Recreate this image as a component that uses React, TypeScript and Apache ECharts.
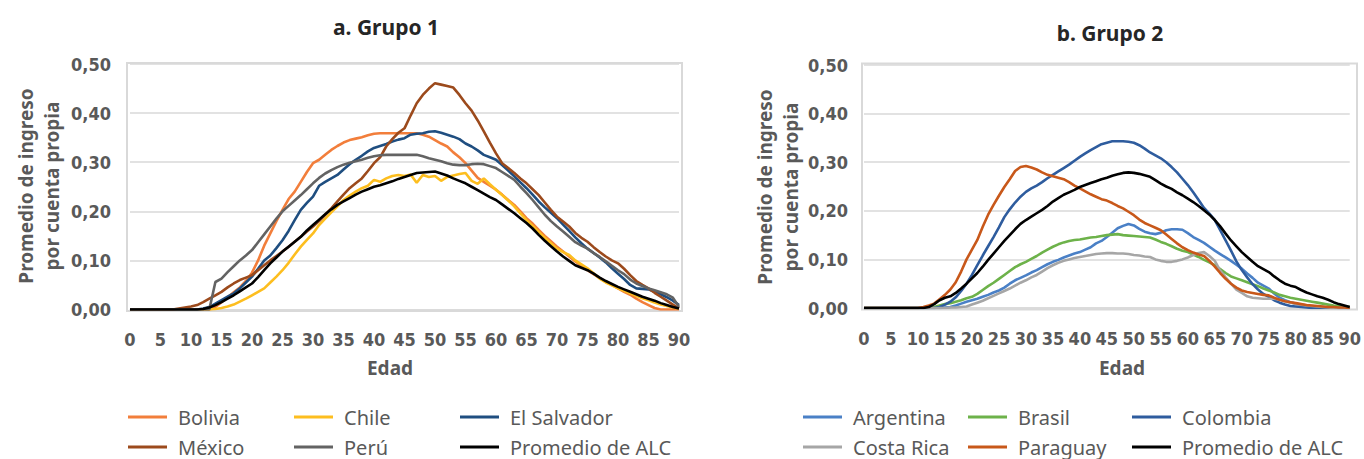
import React, { useEffect, useRef } from "react";
import * as echarts from "echarts";

const AGES: string[] = Array.from({ length: 91 }, (_, i) => String(i));
const Y_TICKS = [0, 0.1, 0.2, 0.3, 0.4, 0.5];

// Grupo 1
const BOLIVIA = [
  0, 0, 0, 0, 0, 0, 0, 0, 0, 0,
  0, 0, 0, 0, 0.005, 0.015, 0.025, 0.035, 0.045, 0.058,
  0.075, 0.1, 0.13, 0.155, 0.18, 0.203, 0.225, 0.24, 0.26, 0.28,
  0.298, 0.305, 0.315, 0.325, 0.333, 0.34, 0.345, 0.348, 0.351, 0.355,
  0.358, 0.359, 0.359, 0.359, 0.359, 0.359, 0.359, 0.359, 0.356, 0.352,
  0.345, 0.338, 0.332, 0.32, 0.31, 0.298, 0.283, 0.268, 0.26, 0.252,
  0.244, 0.234, 0.223, 0.213, 0.2, 0.186, 0.175, 0.162, 0.15, 0.139,
  0.128, 0.118, 0.108, 0.098, 0.089, 0.08, 0.072, 0.064, 0.057, 0.05,
  0.043, 0.036, 0.03, 0.022, 0.015, 0.009, 0.003, 0, 0, 0,
  0,
];
const CHILE = [
  0, 0, 0, 0, 0, 0, 0, 0, 0, 0,
  0, 0, 0, 0, 0.001, 0.003, 0.006, 0.01, 0.016, 0.022,
  0.029, 0.036, 0.043, 0.055, 0.067, 0.08, 0.095, 0.112, 0.128, 0.142,
  0.155, 0.172, 0.185, 0.198, 0.21, 0.223, 0.232, 0.24, 0.247, 0.252,
  0.264, 0.26, 0.267, 0.272, 0.274, 0.272, 0.275, 0.258, 0.274, 0.27,
  0.272, 0.262, 0.27, 0.273, 0.276, 0.278, 0.262, 0.256, 0.267, 0.255,
  0.244, 0.233, 0.222, 0.21, 0.196, 0.182, 0.17, 0.158, 0.146, 0.135,
  0.124, 0.117, 0.111, 0.1, 0.092, 0.084, 0.074, 0.063, 0.055, 0.049,
  0.043, 0.038, 0.033, 0.028, 0.023, 0.019, 0.014, 0.01, 0.007, 0.004,
  0.002,
];
const EL_SALVADOR = [
  0, 0, 0, 0, 0, 0, 0, 0, 0, 0,
  0, 0, 0.002, 0.005, 0.012, 0.019, 0.026, 0.033, 0.043, 0.055,
  0.067, 0.083, 0.1, 0.11, 0.125, 0.141, 0.16, 0.182, 0.203, 0.217,
  0.23, 0.252, 0.26, 0.267, 0.274, 0.285, 0.296, 0.305, 0.313, 0.322,
  0.329, 0.333, 0.337, 0.342, 0.346, 0.349, 0.356, 0.358, 0.359, 0.362,
  0.363, 0.36, 0.356, 0.352, 0.347, 0.338, 0.332, 0.324, 0.315, 0.31,
  0.305, 0.294, 0.283, 0.271, 0.259, 0.247, 0.234, 0.22, 0.208, 0.197,
  0.186, 0.173, 0.16, 0.147, 0.135, 0.124, 0.115, 0.106, 0.096, 0.084,
  0.073, 0.062, 0.05, 0.043, 0.042, 0.041, 0.036, 0.031, 0.025, 0.018,
  0.009,
];
const MEXICO = [
  0, 0, 0, 0, 0, 0, 0, 0, 0.002, 0.004,
  0.006, 0.009, 0.015, 0.022, 0.029, 0.036, 0.045, 0.053, 0.06, 0.065,
  0.07, 0.08, 0.09, 0.1, 0.109, 0.118, 0.128, 0.138, 0.148, 0.159,
  0.169, 0.18, 0.193, 0.206, 0.22, 0.234, 0.247, 0.257, 0.267, 0.282,
  0.298, 0.31, 0.332, 0.347, 0.36, 0.369, 0.395, 0.42, 0.437, 0.45,
  0.461, 0.458, 0.455, 0.452, 0.437, 0.42, 0.405, 0.385, 0.363, 0.34,
  0.318, 0.298, 0.288, 0.278, 0.267, 0.257, 0.245, 0.233, 0.218, 0.203,
  0.189, 0.179, 0.169, 0.156, 0.146, 0.138, 0.127, 0.117, 0.108, 0.1,
  0.094, 0.083, 0.07, 0.058, 0.05, 0.043, 0.034, 0.026, 0.018, 0.01,
  0.002,
];
const PERU = [
  0, 0, 0, 0, 0, 0, 0, 0, 0, 0,
  0, 0, 0, 0, 0.056, 0.063, 0.076, 0.088, 0.1, 0.11,
  0.121, 0.137, 0.153, 0.169, 0.185, 0.2, 0.211, 0.222, 0.233, 0.245,
  0.257, 0.268, 0.277, 0.284, 0.29, 0.295, 0.299, 0.302, 0.305, 0.309,
  0.312, 0.314, 0.315, 0.315, 0.315, 0.315, 0.315, 0.315, 0.312, 0.308,
  0.305, 0.302, 0.298, 0.295, 0.294, 0.294, 0.296, 0.297, 0.296, 0.292,
  0.288, 0.28, 0.272, 0.264, 0.25, 0.237, 0.223, 0.208, 0.193, 0.18,
  0.169, 0.159, 0.148, 0.137, 0.13, 0.124, 0.115, 0.107, 0.098, 0.089,
  0.08, 0.072, 0.061, 0.053, 0.048, 0.043, 0.039, 0.035, 0.031, 0.024,
  0.005,
];
const ALC_1 = [
  0, 0, 0, 0, 0, 0, 0, 0, 0, 0,
  0, 0, 0.001, 0.004, 0.009, 0.015, 0.022, 0.029, 0.037, 0.045,
  0.053, 0.066, 0.08, 0.094, 0.106, 0.118, 0.128, 0.138, 0.148, 0.161,
  0.172, 0.183, 0.194, 0.204, 0.213, 0.22, 0.227, 0.234, 0.24, 0.245,
  0.25, 0.253, 0.257, 0.261, 0.266, 0.27, 0.274, 0.278, 0.279, 0.28,
  0.281, 0.277, 0.273, 0.267, 0.262, 0.257, 0.25, 0.243, 0.236, 0.229,
  0.223, 0.214, 0.205, 0.196, 0.186, 0.176, 0.165, 0.152, 0.14, 0.129,
  0.118, 0.108, 0.099, 0.09, 0.085, 0.08, 0.073, 0.065, 0.058, 0.052,
  0.046, 0.041, 0.036, 0.031, 0.026, 0.022, 0.018, 0.013, 0.009, 0.005,
  0.002,
];

// Grupo 2
const ARGENTINA = [
  0, 0, 0, 0, 0, 0, 0, 0, 0, 0,
  0, 0, 0, 0, 0, 0.001, 0.002, 0.005, 0.009, 0.013,
  0.016, 0.019, 0.023, 0.027, 0.032, 0.036, 0.042, 0.05, 0.057, 0.062,
  0.067, 0.073, 0.078, 0.084, 0.09, 0.095, 0.099, 0.104, 0.108, 0.112,
  0.115, 0.12, 0.125, 0.133, 0.138, 0.146, 0.155, 0.164, 0.169, 0.173,
  0.17, 0.163, 0.157, 0.154, 0.152, 0.155, 0.16, 0.162, 0.162, 0.161,
  0.154, 0.146, 0.14, 0.134, 0.126, 0.118, 0.111, 0.104, 0.097, 0.089,
  0.081, 0.071, 0.062, 0.052, 0.046, 0.04, 0.03, 0.021, 0.016, 0.012,
  0.009, 0.006, 0.004, 0.003, 0.002, 0.002, 0.001, 0.001, 0, 0,
  0,
];
const BRASIL = [
  0, 0, 0, 0, 0, 0, 0, 0, 0, 0,
  0, 0, 0, 0.002, 0.005, 0.008, 0.01, 0.013, 0.016, 0.02,
  0.023, 0.029, 0.037, 0.045, 0.052, 0.06, 0.068, 0.076, 0.084, 0.09,
  0.095, 0.101, 0.107, 0.114, 0.12, 0.126, 0.131, 0.135, 0.138, 0.14,
  0.141, 0.143, 0.145, 0.146, 0.148, 0.15, 0.151, 0.152, 0.15, 0.149,
  0.148, 0.147, 0.146, 0.145, 0.141, 0.136, 0.132, 0.127, 0.122, 0.118,
  0.115, 0.11, 0.105, 0.099, 0.094, 0.088, 0.08, 0.072, 0.065, 0.061,
  0.057, 0.053, 0.049, 0.045, 0.04, 0.036, 0.032, 0.027, 0.024, 0.021,
  0.019, 0.017, 0.015, 0.013, 0.011, 0.009, 0.007, 0.005, 0.004, 0.003,
  0.002,
];
const COLOMBIA = [
  0, 0, 0, 0, 0, 0, 0, 0, 0, 0,
  0, 0, 0, 0, 0.002, 0.007, 0.013, 0.022, 0.035, 0.05,
  0.068, 0.088, 0.108, 0.127, 0.146, 0.166, 0.187, 0.203, 0.217, 0.229,
  0.239, 0.246, 0.252, 0.259, 0.267, 0.274, 0.281, 0.288, 0.295, 0.303,
  0.311, 0.318, 0.325, 0.331, 0.337, 0.34, 0.343, 0.343, 0.343, 0.342,
  0.34, 0.335, 0.328, 0.32, 0.314, 0.308, 0.3, 0.29, 0.279, 0.266,
  0.253, 0.238, 0.222, 0.206, 0.194, 0.181, 0.16, 0.139, 0.118, 0.096,
  0.078, 0.063, 0.049, 0.038, 0.029, 0.023, 0.016, 0.011, 0.007, 0.004,
  0.003, 0.002, 0.001, 0, 0, 0, 0, 0, 0, 0,
  0,
];
const COSTA_RICA = [
  0, 0, 0, 0, 0, 0, 0, 0, 0, 0,
  0, 0, 0, 0, 0, 0, 0.001, 0.001, 0.002, 0.003,
  0.007, 0.011, 0.015, 0.02, 0.025, 0.03, 0.035, 0.04, 0.046, 0.052,
  0.057, 0.063, 0.068, 0.075, 0.082, 0.088, 0.093, 0.097, 0.1, 0.103,
  0.105, 0.107, 0.109, 0.111, 0.112, 0.113, 0.113, 0.112, 0.112, 0.111,
  0.109, 0.108, 0.106, 0.105, 0.1, 0.097, 0.095, 0.095, 0.097, 0.1,
  0.104, 0.109, 0.113, 0.115, 0.107, 0.097, 0.077, 0.063, 0.05, 0.038,
  0.031, 0.024, 0.021, 0.02, 0.019, 0.019, 0.019, 0.017, 0.014, 0.011,
  0.009, 0.007, 0.005, 0.004, 0.003, 0.002, 0.001, 0, 0, 0,
  0,
];
const PARAGUAY = [
  0, 0, 0, 0, 0, 0, 0, 0, 0, 0,
  0, 0.002, 0.005, 0.009, 0.018, 0.027, 0.038, 0.053, 0.075, 0.1,
  0.12, 0.14, 0.167, 0.192, 0.212, 0.231, 0.249, 0.265, 0.282, 0.29,
  0.292, 0.289, 0.285, 0.279, 0.274, 0.271, 0.268, 0.265, 0.259, 0.252,
  0.246, 0.24, 0.234, 0.229, 0.224, 0.221, 0.216, 0.21, 0.205, 0.198,
  0.191, 0.182, 0.175, 0.17, 0.165, 0.16, 0.151, 0.142, 0.133, 0.125,
  0.119, 0.114, 0.11, 0.107, 0.097, 0.085, 0.072, 0.06, 0.05, 0.042,
  0.036, 0.033, 0.031, 0.029, 0.027, 0.026, 0.021, 0.017, 0.014, 0.012,
  0.01, 0.008, 0.006, 0.005, 0.004, 0.003, 0.002, 0.002, 0.001, 0.001,
  0,
];
const ALC_2 = [
  0, 0, 0, 0, 0, 0, 0, 0, 0, 0,
  0, 0, 0.002, 0.008, 0.016, 0.021, 0.024, 0.031, 0.04, 0.05,
  0.061, 0.072, 0.085, 0.099, 0.112, 0.125, 0.138, 0.15, 0.162, 0.173,
  0.181, 0.188, 0.195, 0.202, 0.21, 0.219, 0.226, 0.233, 0.238, 0.243,
  0.249, 0.253, 0.257, 0.261, 0.265, 0.268, 0.272, 0.275, 0.278, 0.279,
  0.278, 0.276, 0.273, 0.27, 0.263, 0.256, 0.25, 0.245, 0.238, 0.232,
  0.225, 0.218, 0.21, 0.201, 0.192, 0.181, 0.168, 0.153, 0.139, 0.127,
  0.115, 0.105, 0.095, 0.086, 0.08, 0.074, 0.065, 0.057, 0.05, 0.046,
  0.043, 0.037, 0.032, 0.028, 0.024, 0.021, 0.017, 0.012, 0.008, 0.005,
  0.002,
];

const GROUP1 = [
  { name: "Bolivia", color: "#F27E3B", data: BOLIVIA },
  { name: "Chile", color: "#FDBE1F", data: CHILE },
  { name: "El Salvador", color: "#1F4E80", data: EL_SALVADOR },
  { name: "México", color: "#9C4A1C", data: MEXICO },
  { name: "Perú", color: "#636363", data: PERU },
  { name: "Promedio de ALC", color: "#000000", data: ALC_1 },
];
const GROUP2 = [
  { name: "Argentina", color: "#4A80C6", data: ARGENTINA },
  { name: "Brasil", color: "#6DB24A", data: BRASIL },
  { name: "Colombia", color: "#2E5C9E", data: COLOMBIA },
  { name: "Costa Rica", color: "#A6A6A6", data: COSTA_RICA },
  { name: "Paraguay", color: "#C8581A", data: PARAGUAY },
  { name: "Promedio de ALC", color: "#000000", data: ALC_2 },
];

const GRAY = "#595959";
const GRID_LINE = "#D9D9D9";
const TICK_FONT = "'Liberation Sans Narrow', 'DejaVu Sans Condensed', sans-serif";
const TEXT_FONT = "'Noto Sans', sans-serif";

export default function App() {
  const ref = useRef<HTMLDivElement>(null);

  useEffect(() => {
    if (!ref.current) return;
    const chart = echarts.init(ref.current, undefined, { renderer: "svg" });

    const grids = [
      { left: 130, top: 64, width: 549, height: 245.5 },
      { left: 864, top: 65, width: 490, height: 243 },
    ];
    const labelMargins = [19, 16];

    const xAxes = grids.map((_, i) => ({
      type: "category",
      gridIndex: i,
      data: AGES,
      boundaryGap: false,
      axisLine: { show: true, lineStyle: { color: GRID_LINE, width: 1.5 } },
      axisTick: { show: false },
      axisLabel: {
        interval: 4,
        margin: 21,
        color: GRAY,
        fontFamily: TICK_FONT,
        fontWeight: "bold",
        fontSize: 18,
      },
      splitLine: { show: false },
    }));

    const yAxes = grids.map((_, i) => ({
      type: "value",
      gridIndex: i,
      min: Y_TICKS[0],
      max: Y_TICKS[Y_TICKS.length - 1],
      interval: 0.1,
      axisLine: { show: false },
      axisTick: { show: false },
      axisLabel: {
        margin: labelMargins[i],
        color: GRAY,
        fontFamily: TICK_FONT,
        fontWeight: "bold",
        fontSize: 18,
        formatter: (v: number) => v.toFixed(2).replace(".", ","),
      },
      splitLine: { show: true, lineStyle: { color: GRID_LINE, width: 1.5 } },
    }));

    const makeSeries = (group: typeof GROUP1, idx: number) =>
      group.map((s, k) => ({
        type: "line",
        name: s.name,
        xAxisIndex: idx,
        yAxisIndex: idx,
        data: s.data,
        symbol: "none",
        showSymbol: false,
        z: 2 + k,
        lineStyle: { color: s.color, width: 2.6 },
        itemStyle: { color: s.color },
      }));

    const legendCols1 = [128, 294, 460];
    const legendCols2 = [803, 968, 1132];
    const legendRows = [407, 437];
    const legends: any[] = [];
    const addLegends = (group: typeof GROUP1, cols: number[]) => {
      group.forEach((s, k) => {
        legends.push({
          left: cols[k % 3],
          top: legendRows[Math.floor(k / 3)],
          padding: 0,
          icon: "rect",
          itemWidth: 39,
          itemHeight: 3,
          itemGap: 0,
          selectedMode: false,
          data: [{ name: s.name, itemStyle: { color: s.color } }],
          textStyle: {
            color: GRAY,
            fontFamily: TEXT_FONT,
            fontSize: 20,
            lineHeight: 20,
            padding: [0, 0, 0, 6],
          },
        });
      });
    };
    addLegends(GROUP1, legendCols1);
    addLegends(GROUP2, legendCols2);

    const text = (x: number, y: number, t: string, opts: any = {}) => ({
      type: "text",
      x,
      y,
      rotation: opts.rotation || 0,
      z: 10,
      style: {
        text: t,
        fill: opts.fill || GRAY,
        font: opts.font,
        textAlign: "center",
        textVerticalAlign: "middle",
        lineHeight: opts.lineHeight,
      },
    });

    const graphic = [
      {
        type: "rect",
        z: 0,
        shape: { x: 127, y: 63, width: 555, height: 248 },
        style: { fill: "none", stroke: GRID_LINE, lineWidth: 2 },
      },
      {
        type: "rect",
        z: 0,
        shape: { x: 862, y: 63.5, width: 495, height: 246 },
        style: { fill: "none", stroke: GRID_LINE, lineWidth: 2 },
      },
      text(386, 27, "a. Grupo 1", { fill: "#262626", font: `bold 21px ${TEXT_FONT}` }),
      text(1110, 33, "b. Grupo 2", { fill: "#262626", font: `bold 21px ${TEXT_FONT}` }),
      text(390, 368, "Edad", { font: `bold 19px ${TEXT_FONT}` }),
      text(1122, 368, "Edad", { font: `bold 19px ${TEXT_FONT}` }),
      text(39, 186, "Promedio de ingreso\npor cuenta propia", {
        rotation: Math.PI / 2,
        font: `bold 19px ${TEXT_FONT}`,
        lineHeight: 26,
      }),
      text(778, 187, "Promedio de ingreso\npor cuenta propia", {
        rotation: Math.PI / 2,
        font: `bold 19px ${TEXT_FONT}`,
        lineHeight: 26,
      }),
    ];

    chart.setOption({
      animation: false,
      backgroundColor: "#FFFFFF",
      grid: grids,
      xAxis: xAxes,
      yAxis: yAxes,
      legend: legends,
      series: [...makeSeries(GROUP1, 0), ...makeSeries(GROUP2, 1)],
      graphic,
    });

    return () => chart.dispose();
  }, []);

  return (
    <div
      ref={ref}
      style={{ position: "fixed", left: 0, top: 0, width: 1364, height: 459 }}
    />
  );
}
